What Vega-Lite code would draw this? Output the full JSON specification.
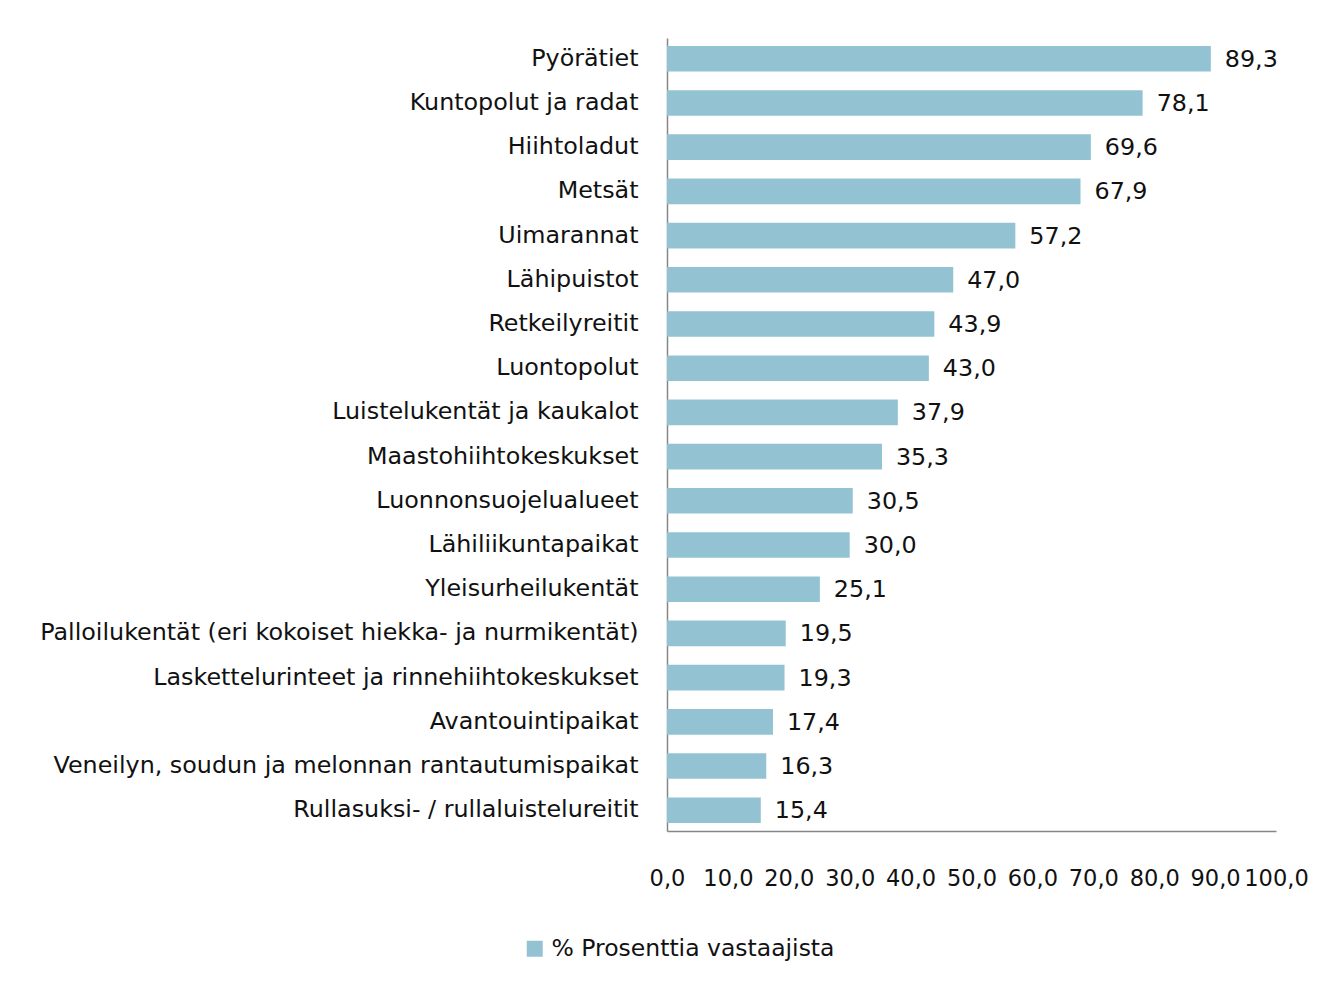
{
  "$schema": "https://vega.github.io/schema/vega-lite/v6.json",
  "autosize": {"type": "none"},
  "padding": {"left": 667, "top": 38, "right": 67, "bottom": 154},
  "width": 609,
  "height": 793,
  "background": "white",
  "config": {
    "locale": {"number": {"decimal": ",", "thousands": " ", "grouping": [3], "currency": ["", " €"]}},
    "view": {"stroke": null},
    "font": "DejaVu Sans"
  },
  "data": {
    "values": [
      {"kohde": "Pyörätiet", "arvo": 89.3, "sarja": "% Prosenttia vastaajista"},
      {"kohde": "Kuntopolut ja radat", "arvo": 78.1, "sarja": "% Prosenttia vastaajista"},
      {"kohde": "Hiihtoladut", "arvo": 69.6, "sarja": "% Prosenttia vastaajista"},
      {"kohde": "Metsät", "arvo": 67.9, "sarja": "% Prosenttia vastaajista"},
      {"kohde": "Uimarannat", "arvo": 57.2, "sarja": "% Prosenttia vastaajista"},
      {"kohde": "Lähipuistot", "arvo": 47.0, "sarja": "% Prosenttia vastaajista"},
      {"kohde": "Retkeilyreitit", "arvo": 43.9, "sarja": "% Prosenttia vastaajista"},
      {"kohde": "Luontopolut", "arvo": 43.0, "sarja": "% Prosenttia vastaajista"},
      {"kohde": "Luistelukentät ja kaukalot", "arvo": 37.9, "sarja": "% Prosenttia vastaajista"},
      {"kohde": "Maastohiihtokeskukset", "arvo": 35.3, "sarja": "% Prosenttia vastaajista"},
      {"kohde": "Luonnonsuojelualueet", "arvo": 30.5, "sarja": "% Prosenttia vastaajista"},
      {"kohde": "Lähiliikuntapaikat", "arvo": 30.0, "sarja": "% Prosenttia vastaajista"},
      {"kohde": "Yleisurheilukentät", "arvo": 25.1, "sarja": "% Prosenttia vastaajista"},
      {"kohde": "Palloilukentät (eri kokoiset hiekka- ja nurmikentät)", "arvo": 19.5, "sarja": "% Prosenttia vastaajista"},
      {"kohde": "Laskettelurinteet ja rinnehiihtokeskukset", "arvo": 19.3, "sarja": "% Prosenttia vastaajista"},
      {"kohde": "Avantouintipaikat", "arvo": 17.4, "sarja": "% Prosenttia vastaajista"},
      {"kohde": "Veneilyn, soudun ja melonnan rantautumispaikat", "arvo": 16.3, "sarja": "% Prosenttia vastaajista"},
      {"kohde": "Rullasuksi- / rullaluistelureitit", "arvo": 15.4, "sarja": "% Prosenttia vastaajista"}
    ]
  },
  "encoding": {
    "y": {
      "field": "kohde", "type": "nominal", "sort": null,
      "scale": {"paddingInner": 0.42, "paddingOuter": 0.18},
      "axis": {
        "title": null, "ticks": false, "domain": true, "domainColor": "#868686", "domainWidth": 1.5,
        "labelFontSize": 23.8, "labelColor": "#111111", "labelPadding": 29, "labelLimit": 700, "labelFont": "DejaVu Sans"
      }
    },
    "x": {
      "field": "arvo", "type": "quantitative",
      "scale": {"domain": [0, 100], "nice": false},
      "axis": {
        "title": null, "values": [0, 10, 20, 30, 40, 50, 60, 70, 80, 90, 100], "format": ".1f",
        "grid": false, "ticks": false, "domainColor": "#868686", "domainWidth": 1.5,
        "labelFontSize": 22.5, "labelColor": "#111111", "labelPadding": 36, "labelOverlap": false,
        "labelFlush": false, "labelFont": "DejaVu Sans"
      }
    }
  },
  "layer": [
    {
      "mark": {"type": "bar"},
      "encoding": {
        "color": {
          "field": "sarja", "type": "nominal",
          "scale": {"range": ["#93C3D3"]},
          "legend": {
            "title": null, "orient": "none", "legendX": -144, "legendY": 899,
            "symbolType": "square", "symbolSize": 256, "symbolStrokeWidth": 0,
            "labelFontSize": 23.5, "labelColor": "#111111", "labelFont": "DejaVu Sans", "labelLimit": 500, "labelOffset": 5
          }
        }
      }
    },
    {
      "mark": {"type": "text", "align": "left", "baseline": "middle", "dx": 14, "dy": 1, "fontSize": 23.8, "color": "#111111", "font": "DejaVu Sans"},
      "encoding": {
        "text": {"field": "arvo", "type": "quantitative", "format": ".1f"}
      }
    }
  ]
}
